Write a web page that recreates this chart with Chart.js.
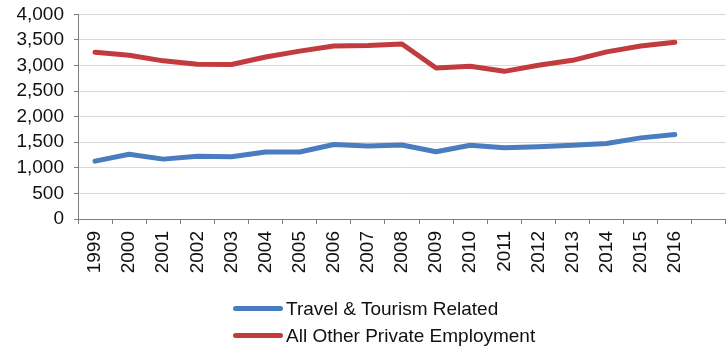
<!DOCTYPE html>
<html>
<head>
<meta charset="utf-8">
<script src="https://cdn.jsdelivr.net/npm/chart.js@4.4.1/dist/chart.umd.min.js"></script>
<style>
    html, body { margin: 0; padding: 0; background: #fff; overflow: hidden; }
    #wrap { position: relative; width: 735px; height: 352px; }
    #legend { position: absolute; left: 233px; top: 295px; font-family: "Liberation Sans", Arial, sans-serif; font-size: 19px; color: #111; }
    .lg-row { display: flex; align-items: center; height: 27px; }
    .lg-line { width: 50px; height: 5px; border-radius: 3px; margin-right: 3px; }
</style>
</head>
<body>
<div id="wrap">
    <canvas id="chartZatrudnienie" width="735" height="352"></canvas>
    <div id="legend"></div>
</div>
<script>
'use strict';

// Zatrudnienie (w tys.) 1999-2016, ostatnia kategoria pusta
const years = ['1999', '2000', '2001', '2002', '2003', '2004', '2005', '2006', '2007',
               '2008', '2009', '2010', '2011', '2012', '2013', '2014', '2015', '2016', ''];
const travelTourism = [1130, 1265, 1170, 1225, 1215, 1310, 1310, 1455, 1425,
                       1445, 1315, 1440, 1390, 1410, 1440, 1475, 1585, 1650];
const otherPrivate = [3260, 3200, 3090, 3025, 3020, 3165, 3280, 3380, 3390,
                      3420, 2950, 2985, 2885, 3005, 3100, 3265, 3380, 3455];
const yTicks = [0, 500, 1000, 1500, 2000, 2500, 3000, 3500, 4000];

const seriesNames = ['Travel & Tourism Related', 'All Other Private Employment'];
const seriesColors = ['#4a7cc0', '#c23b3f'];

const FONT_X = { family: '"Liberation Sans", Arial, sans-serif', size: 19, lineHeight: 1 };
// niski lineHeight zmniejsza zapas nad osią Y (etykiety i tak są wyśrodkowane)
const FONT_Y = { family: '"Liberation Sans", Arial, sans-serif', size: 19, lineHeight: 0.45 };

const ctx = document.getElementById('chartZatrudnienie');
const chart = new Chart(ctx, {
    type: 'line',
    data: {
        labels: years,
        datasets: [travelTourism, otherPrivate].map((d, i) => ({
            label: seriesNames[i],
            data: d,
            borderColor: seriesColors[i],
            backgroundColor: seriesColors[i],
            borderWidth: 5,
            pointRadius: 0,
            tension: 0,
            borderCapStyle: 'round',
            borderJoinStyle: 'round'
        }))
    },
    options: {
        responsive: false,
        animation: false,
        layout: { padding: { top: 0, right: 3, left: 0, bottom: 0 } },
        plugins: { legend: { display: false }, tooltip: { enabled: false } },
        scales: {
            x: {
                offset: true,
                grid: { offset: true, drawOnChartArea: false, tickLength: 5, tickColor: '#7f7f7f' },
                border: { color: '#7f7f7f', width: 1 },
                ticks: { font: FONT_X, color: '#111', minRotation: 90, maxRotation: 90, padding: 7, autoSkip: false },
                afterFit: s => { s.height = 133; }
            },
            y: {
                min: 0,
                max: 4000,
                afterBuildTicks: s => { s.ticks = yTicks.map(v => ({ value: v })); },
                grid: { color: '#d9d9d9', tickLength: 4, tickColor: '#7f7f7f' },
                border: { color: '#7f7f7f', width: 1 },
                ticks: {
                    font: FONT_Y, color: '#111', padding: 10, autoSkip: false,
                    callback: v => v.toLocaleString('en-US')
                },
                afterFit: s => { s.width = 78; }
            }
        }
    }
});

// Legenda w dwóch wierszach pod wykresem
const legend = document.getElementById('legend');
chart.data.datasets.forEach(ds => {
    const row = document.createElement('div');
    row.className = 'lg-row';
    row.innerHTML = `<span class="lg-line" style="background:${ds.borderColor}"></span><span>${ds.label.replace('&', '&amp;')}</span>`;
    legend.appendChild(row);
});
</script>
</body>
</html>
